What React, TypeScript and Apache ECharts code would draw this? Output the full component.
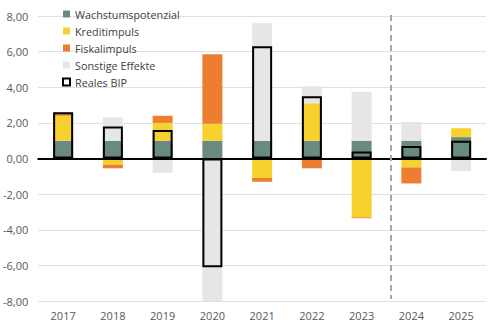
import React, { useEffect, useRef } from "react";
import * as echarts from "echarts";

const categories = ["2017", "2018", "2019", "2020", "2021", "2022", "2023", "2024", "2025"];
const wachstum = [1.0, 1.0, 1.0, 1.0, 1.0, 1.0, 1.0, 1.0, 1.2];
const kredit = [1.4, -0.35, 1.0, 0.95, -1.1, 2.1, -3.3, -0.5, 0.5];
const fiskal = [0.17, -0.2, 0.4, 3.9, -0.2, -0.55, -0.05, -0.9, 0];
const sonstige = [0.03, 1.3, -0.8, -12.0, 6.6, 0.95, 2.75, 1.05, -0.7];
const realesBip = [2.6, 1.8, 1.6, -6.1, 6.3, 3.5, 0.4, 0.7, 1.0];
const yTicks = { min: -8, max: 8, interval: 2 };

const COLORS = {
  wachstum: "#6a8a7f",
  kredit: "#f7d12e",
  fiskal: "#ed7d31",
  sonstige: "#e6e6e6",
};

export default function App() {
  const ref = useRef<HTMLDivElement>(null);
  useEffect(() => {
    document.body.style.margin = "0";
    if (!ref.current) return;
    const chart = echarts.init(ref.current, null, { renderer: "svg" });
    const font = "'Open Sans', 'Noto Sans', sans-serif";
    const stackSeries = (name: string, data: number[], color: string) => ({
      name,
      type: "bar",
      stack: "total",
      data,
      barWidth: 20,
      barGap: "-100%",
      clip: true,
      itemStyle: { color },
      emphasis: { disabled: true },
    });
    chart.setOption({
      animation: false,
      textStyle: { fontFamily: font },
      grid: { left: 38, right: 14, top: 16, bottom: 28, containLabel: false },
      legend: {
        orient: "vertical",
        left: 62,
        top: 8,
        padding: 0,
        itemWidth: 7,
        itemHeight: 7,
        itemGap: 5,
        textStyle: { fontFamily: font, fontSize: 10.8, lineHeight: 12, color: "#404040" },
        data: [
          { name: "Wachstumspotenzial", icon: "rect" },
          { name: "Kreditimpuls", icon: "rect" },
          { name: "Fiskalimpuls", icon: "rect" },
          { name: "Sonstige Effekte", icon: "rect" },
          {
            name: "Reales BIP",
            icon: "rect",
            itemStyle: { color: "#ffffff", borderColor: "#000000", borderWidth: 2 },
          },
        ],
      },
      xAxis: {
        type: "category",
        data: categories,
        axisLine: { onZero: true, lineStyle: { color: "#000000", width: 2 } },
        axisTick: { show: false },
        axisLabel: {
          position: "bottom",
          color: "#595959",
          fontSize: 11,
          fontFamily: font,
          margin: 9,
        },
        z: 10,
      },
      yAxis: {
        type: "value",
        min: yTicks.min,
        max: yTicks.max,
        interval: yTicks.interval,
        axisLine: { show: false },
        axisTick: { show: false },
        splitLine: { lineStyle: { color: "#e0e0e0", width: 1 } },
        axisLabel: {
          color: "#595959",
          fontSize: 11,
          fontFamily: font,
          margin: 10,
          formatter: (v: number) => v.toFixed(2).replace(".", ","),
        },
      },
      series: [
        stackSeries("Wachstumspotenzial", wachstum, COLORS.wachstum),
        stackSeries("Kreditimpuls", kredit, COLORS.kredit),
        stackSeries("Fiskalimpuls", fiskal, COLORS.fiskal),
        stackSeries("Sonstige Effekte", sonstige, COLORS.sonstige),
        {
          name: "Reales BIP",
          type: "bar",
          data: realesBip,
          barWidth: 20,
          barGap: "-100%",
          z: 5,
          itemStyle: { color: "rgba(0,0,0,0)", borderColor: "#000000", borderWidth: 2 },
          emphasis: { disabled: true },
        },
      ],
    });
    const x23 = chart.convertToPixel({ xAxisIndex: 0 }, "2023") as number;
    const x24 = chart.convertToPixel({ xAxisIndex: 0 }, "2024") as number;
    const yTop = chart.convertToPixel({ yAxisIndex: 0 }, 8) as number;
    const yBot = chart.convertToPixel({ yAxisIndex: 0 }, -8) as number;
    const xd = Math.round(x23 + (x24 - x23) * 0.59);
    chart.setOption({
      graphic: [
        {
          type: "line",
          shape: { x1: xd, y1: yTop - 1, x2: xd, y2: yBot - 2 },
          style: { stroke: "#a6a6a6", lineWidth: 2, lineDash: [6, 4] },
          z: 20,
        },
      ],
    });
    return () => chart.dispose();
  }, []);
  return <div ref={ref} style={{ width: 500, height: 329 }} />;
}
